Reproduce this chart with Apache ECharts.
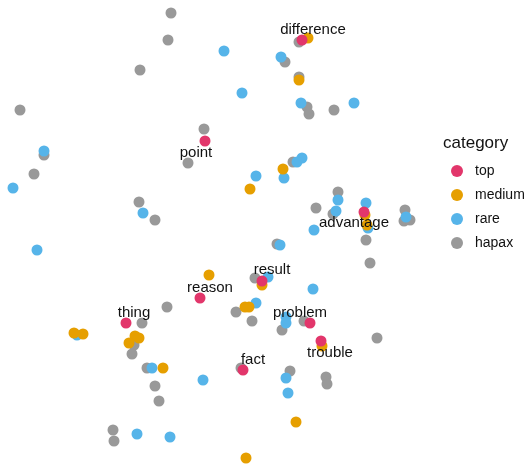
<!DOCTYPE html>
<html>
<head>
<meta charset="utf-8">
<script src="https://cdn.jsdelivr.net/npm/echarts@6/dist/echarts.min.js"></script>
<style>
  html, body { margin: 0; padding: 0; background: #fff; }
  #chart { width: 524px; height: 464px; }
</style>
</head>
<body>
<div id="chart"></div>
<script>
// point coordinates (x right, y down)
const topWords = ['difference', 'point', 'advantage', 'result', 'reason', 'thing', 'problem', 'trouble', 'fact']
const topPoints = [
  [302, 40], [205, 141], [364, 212], [262, 281], [200, 298],
  [126, 323], [310, 323], [321, 341], [243, 370]
]
const mediumPoints = [
  [308, 38], [299, 80], [283, 169], [250, 189], [365, 215], [367, 225],
  [209, 275], [262, 285], [245, 307], [249, 307], [74, 333], [83, 334],
  [135, 336], [139, 338], [129, 343], [163, 368], [322, 346], [296, 422], [246, 458]
]
const rarePoints = [
  [224, 51], [281, 57], [242, 93], [301, 103], [354, 103], [44, 151],
  [302, 158], [297, 162], [256, 176], [284, 178], [13, 188], [143, 213],
  [338, 200], [336, 211], [366, 203], [368, 228], [406, 217], [314, 230],
  [37, 250], [280, 245], [268, 277], [313, 289], [256, 303], [77, 335],
  [286, 317], [286, 323], [152, 368], [203, 380], [286, 378], [288, 393],
  [137, 434], [170, 437]
]
const hapaxPoints = [
  [171, 13], [168, 40], [140, 70], [20, 110], [204, 129], [299, 42],
  [285, 62], [299, 77], [307, 107], [309, 114], [334, 110], [44, 155],
  [188, 163], [34, 174], [139, 202], [155, 220], [338, 192], [316, 208],
  [333, 214], [405, 210], [404, 221], [410, 220], [366, 240], [277, 244],
  [370, 263], [255, 278], [167, 307], [142, 323], [236, 312], [252, 321],
  [282, 330], [304, 321], [134, 345], [132, 354], [147, 368], [155, 386],
  [159, 401], [377, 338], [241, 368], [290, 371], [326, 377], [327, 384],
  [113, 430], [114, 441], [293, 162]
]
const categories = ['top', 'medium', 'rare', 'hapax']

const colors = { top: '#E2366B', medium: '#E69F00', rare: '#56B4E9', hapax: '#999999' }

// where each word label sits relative to its point (repelled labels)
const labelShift = {
  difference: [11, -10], point: [-9, 12], advantage: [-10, 11],
  result: [10, -11], reason: [10, -10], thing: [8, -10],
  problem: [-10, -10], trouble: [9, 12], fact: [10, -10]
}

const chart = echarts.init(document.getElementById('chart'))
const font = '"Liberation Sans", Arial, sans-serif'

function dots(name, pts) {
  return {
    name: name,
    type: 'scatter',
    symbolSize: 11,
    itemStyle: { color: colors[name], opacity: 1 },
    emphasis: { disabled: true },
    data: pts
  }
}

const topSeries = dots('top', topPoints.map((p, i) => ({
  value: p,
  label: {
    show: true,
    formatter: topWords[i],
    position: 'inside',
    offset: labelShift[topWords[i]],
    color: '#111',
    fontSize: 15,
    fontFamily: font
  }
})))

chart.setOption({
  animation: false,
  title: {
    text: 'category',
    left: 443, top: 135,
    padding: 0,
    textStyle: { fontSize: 17, fontWeight: 'normal', color: '#111', fontFamily: font }
  },
  legend: {
    data: categories,
    orient: 'vertical',
    left: 451, top: 164,
    padding: 0,
    icon: 'circle',
    itemWidth: 12, itemHeight: 12,
    itemGap: 10,
    selectedMode: false,
    textStyle: { fontSize: 14, color: '#111', fontFamily: font, padding: [0, 0, 0, 7], lineHeight: 12 }
  },
  grid: { left: 0, top: 0, width: 430, height: 464 },
  xAxis: { type: 'value', min: 0, max: 430, show: false },
  yAxis: { type: 'value', min: 0, max: 464, inverse: true, show: false },
  series: [
    dots('hapax', hapaxPoints),
    dots('rare', rarePoints),
    dots('medium', mediumPoints),
    topSeries
  ]
})
</script>
</body>
</html>
